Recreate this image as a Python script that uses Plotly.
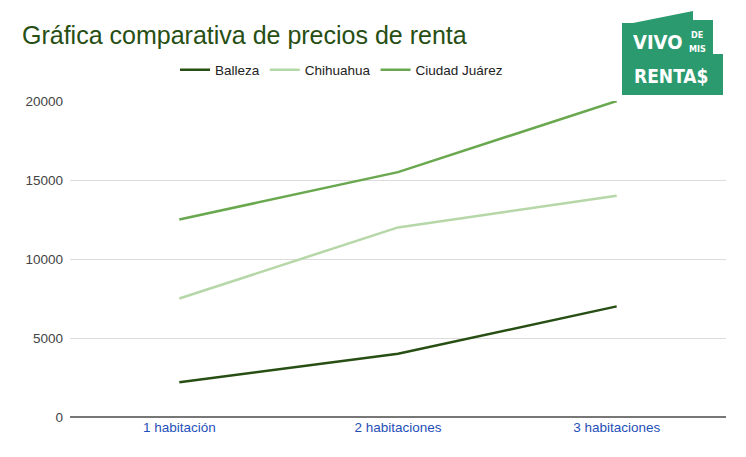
import plotly.graph_objects as go

categorias = ["1 habitación", "2 habitaciones", "3 habitaciones"]
balleza = [2200, 4000, 7000]
chihuahua = [7500, 12000, 14000]
ciudad_juarez = [12500, 15500, 20000]
y_ticks = [0, 5000, 10000, 15000, 20000]

# the page puts the figure 8px in from the top-left corner
OFF = 8
W, H = 746 - OFF, 457 - OFF
L, R, T, B = 70 - OFF, 20, 101 - OFF, 40
PW, PH = W - L - R, H - T - B


# helpers: screen pixels -> paper coords
def px_x(x):
    return (x - OFF - L) / PW


def px_y(y):
    return (H - B - (y - OFF)) / PH


fig = go.Figure()
series = [
    ("Balleza", balleza, "#274e13"),
    ("Chihuahua", chihuahua, "#b6d7a8"),
    ("Ciudad Juárez", ciudad_juarez, "#6aa84f"),
]
for name, vals, color in series:
    fig.add_trace(go.Scatter(
        x=categorias, y=vals, name=name, mode="lines",
        line=dict(color=color, width=2.5),
        hoverinfo="x+y+name",
    ))

# logo "VIVO DE MIS RENTA$"
logo_pts = [(622, 95), (622, 23), (633, 23), (693, 11), (693, 20), (713, 20),
            (713, 54), (723, 54), (723, 95)]
path = "M " + " L ".join(f"{px_x(x):.5f},{px_y(y):.5f}" for x, y in logo_pts) + " Z"
fig.add_shape(type="path", path=path, xref="paper", yref="paper",
              fillcolor="#2b9a6e", line=dict(width=0), layer="above")

logo_font = "Liberation Sans Narrow, Arial Narrow, DejaVu Sans Condensed, sans-serif"
logo_txt = [
    ("VIVO", 657, 42, 20),
    ("DE", 697, 35, 9),
    ("MIS", 697, 49, 9),
    ("RENTA$", 671, 76, 19),
]
for txt, x, y, size in logo_txt:
    fig.add_annotation(text=f"<b>{txt}</b>", x=px_x(x), y=px_y(y), xref="paper", yref="paper",
                       showarrow=False, xanchor="center", yanchor="middle",
                       font=dict(family=logo_font, size=size, color="white"))

fig.update_layout(
    width=W, height=H,
    margin=dict(l=L, r=R, t=T, b=B),
    paper_bgcolor="white", plot_bgcolor="white",
    font=dict(family="Liberation Sans, Arial, sans-serif", size=13, color="#444444"),
    title=dict(text="Gráfica comparativa de precios de renta",
               x=(22 - OFF) / W, xref="container", xanchor="left",
               y=1 - (35 - OFF) / H, yref="container", yanchor="middle",
               font=dict(size=25, color="#274e13")),
    legend=dict(orientation="h", x=px_x(175), xanchor="left", y=px_y(70), yanchor="middle",
                font=dict(size=13.5, color="#222222"), itemwidth=30,
                bgcolor="rgba(0,0,0,0)"),
    showlegend=True,
    xaxis=dict(type="category", range=[-0.5, 2.5], showgrid=False, zeroline=False,
               showline=False, ticks="", tickfont=dict(color="#1f4fb8", size=13.5)),
    yaxis=dict(range=[0, 20000], tickvals=y_ticks, ticktext=[str(v) for v in y_ticks],
               showgrid=True, gridcolor="#dcdcdc", gridwidth=1,
               zeroline=True, zerolinecolor="#777777", zerolinewidth=2,
               showline=False, ticks="", ticklabelstandoff=6,
               tickfont=dict(color="#444444", size=13.5)),
)

fig.write_html("out.html")
